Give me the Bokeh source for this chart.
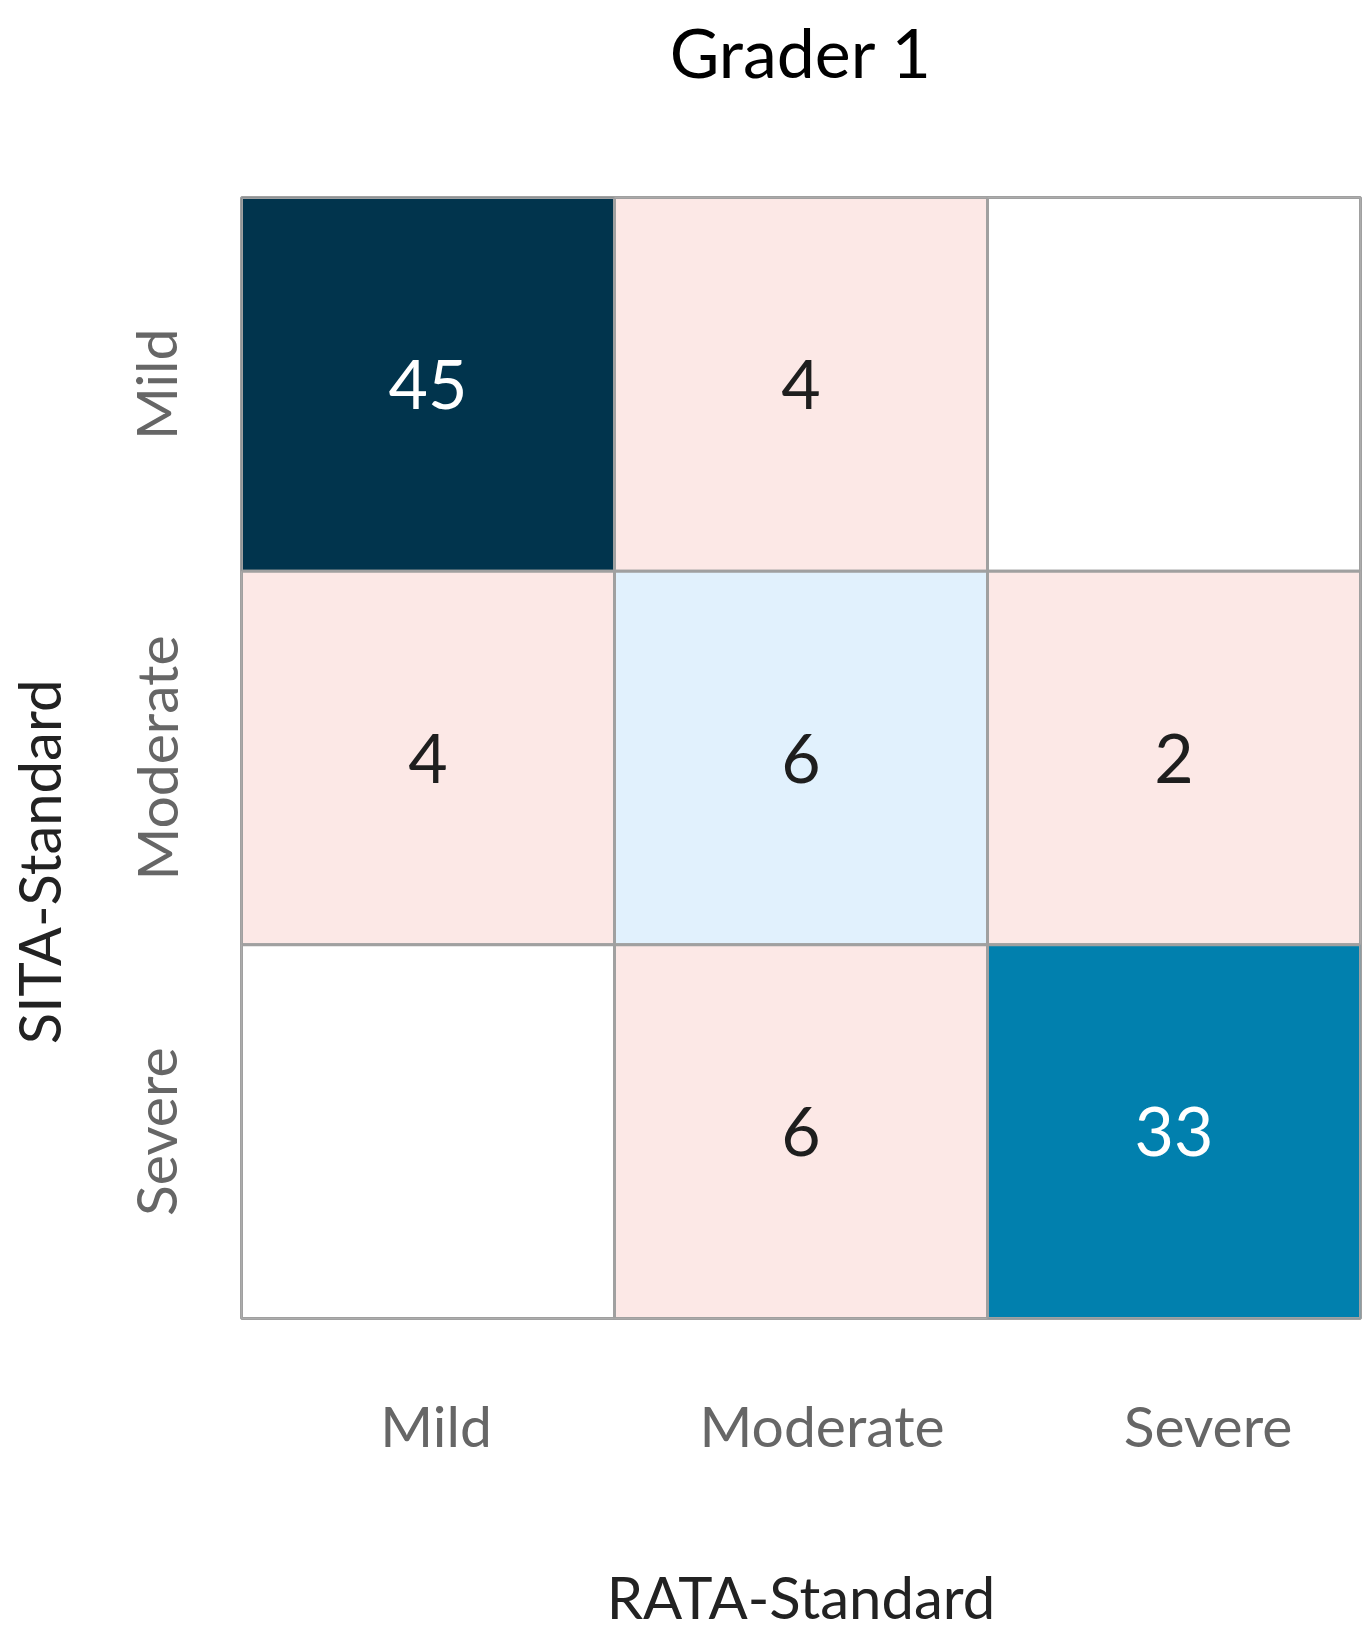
from bokeh.plotting import figure
from bokeh.models import ColumnDataSource, Range1d, LinearAxis, FixedTicker, LinearScale
from bokeh.core.properties import value
from bokeh.embed import file_html
from bokeh.resources import INLINE

# ---- data ----
rata_levels = ["Mild", "Moderate", "Severe"]          # columns (x)
sita_levels = ["Mild", "Moderate", "Severe"]          # rows (y), top to bottom
row_mild = [45, 4, 0]        # SITA Mild vs RATA Mild/Moderate/Severe
row_moderate = [4, 6, 2]
row_severe = [0, 6, 33]
title_text = "Grader 1"
x_title = "RATA-Standard"
y_title = "SITA-Standard"

# ---- styling ----
FONT = "Lato"
PINK = "#FCE8E6"
EMPTY = "#FFFFFF"
DIAG_ANCHORS = [(6, (0xE1, 0xF1, 0xFD)), (33, (0x01, 0x80, 0xAE)), (45, (0x01, 0x34, 0x4D))]
Y_TITLE_PAD = "\u00a0" * 14   # shifts the rotated y title a little below the grid's middle


def diag_color(v):
    pts = DIAG_ANCHORS
    if v <= pts[0][0]:
        c = pts[0][1]
    elif v >= pts[-1][0]:
        c = pts[-1][1]
    else:
        for (v0, c0), (v1, c1) in zip(pts[:-1], pts[1:]):
            if v0 <= v <= v1:
                t = (v - v0) / (v1 - v0)
                c = tuple(round(a + (b - a) * t) for a, b in zip(c0, c1))
                break
    return "#%02x%02x%02x" % c


ncols, nrows = len(rata_levels), len(sita_levels)
rows = [row_mild, row_moderate, row_severe]
xs, ys, vals, fills, labels, tcolors = [], [], [], [], [], []
for i, (sita, row) in enumerate(zip(sita_levels, rows)):
    for j, (rata, v) in enumerate(zip(rata_levels, row)):
        xs.append(j + 0.5)              # centre of RATA column j
        ys.append(nrows - i - 0.5)      # centre of SITA row i (first row on top)
        vals.append(v)
        if v == 0:
            fills.append(EMPTY)
        elif i == j:
            fills.append(diag_color(v))
        else:
            fills.append(PINK)
        labels.append(str(v) if v else "")
        tcolors.append("#FFFFFF" if (i == j and v >= 20) else "#1E1E1E")

src = ColumnDataSource(dict(x=xs, y=ys, v=vals, fill=fills, label=labels, tc=tcolors))

p = figure(
    x_range=Range1d(0, ncols), y_range=Range1d(0, nrows),
    frame_width=1119, frame_height=1121,
    min_border_left=241, min_border_right=3, min_border_top=197, min_border_bottom=323,
    output_backend="svg", toolbar_location=None, tools="",
    x_axis_location=None, y_axis_location=None,
)

p.rect(x="x", y="y", width=1, height=1, source=src, fill_color="fill",
       line_color="#A0A0A0", line_width=3)
p.text(x="x", y="y", text="label", source=src, text_color="tc",
       text_align="center", text_baseline="middle",
       text_font=value(FONT), text_font_size="68px")

p.outline_line_color = "#A0A0A0"
p.outline_line_width = 3
p.grid.visible = False
p.background_fill_color = "white"
p.border_fill_color = "white"

# title: drawn as the label of a tick-less axis above the grid
top_axis = LinearAxis(ticker=FixedTicker(ticks=[], minor_ticks=[]), axis_label=title_text)
top_axis.axis_label_text_font_size = "68px"
top_axis.axis_label_text_color = "#000000"
top_axis.axis_label_standoff = 106
p.add_layout(top_axis, "above")

# y axis: row names
y_axis = LinearAxis(ticker=FixedTicker(ticks=[nrows - i - 0.5 for i in range(nrows)], minor_ticks=[]),
                    major_label_overrides={nrows - i - 0.5: name for i, name in enumerate(sita_levels)},
                    axis_label=y_title + Y_TITLE_PAD)
y_axis.major_label_orientation = "vertical"
y_axis.major_label_standoff = 46
y_axis.axis_label_standoff = 46
p.add_layout(y_axis, "left")

# x axis: column names sit slightly to the right of the cell centres
p.extra_x_ranges = {"lab": Range1d(start=-0.004, end=2.895)}
p.extra_x_scales = {"lab": LinearScale()}
x_axis = LinearAxis(x_range_name="lab",
                    ticker=FixedTicker(ticks=[k + 0.5 for k in range(ncols)], minor_ticks=[]),
                    major_label_overrides={k + 0.5: name for k, name in enumerate(rata_levels)},
                    axis_label=x_title)
x_axis.major_label_standoff = 66
x_axis.axis_label_standoff = 100
p.add_layout(x_axis, "below")

for ax in (x_axis, y_axis, top_axis):
    ax.axis_line_color = None
    ax.major_tick_line_color = None
    ax.minor_tick_line_color = None
    ax.major_label_text_font = FONT
    ax.major_label_text_font_size = "57px"
    ax.major_label_text_color = "#666666"
    ax.axis_label_text_font = FONT
    ax.axis_label_text_font_style = "normal"
for ax in (x_axis, y_axis):
    ax.axis_label_text_font_size = "58px"
    ax.axis_label_text_color = "#222222"
top_axis.major_tick_out = 0

open("out.html", "w").write(file_html(p, INLINE))
